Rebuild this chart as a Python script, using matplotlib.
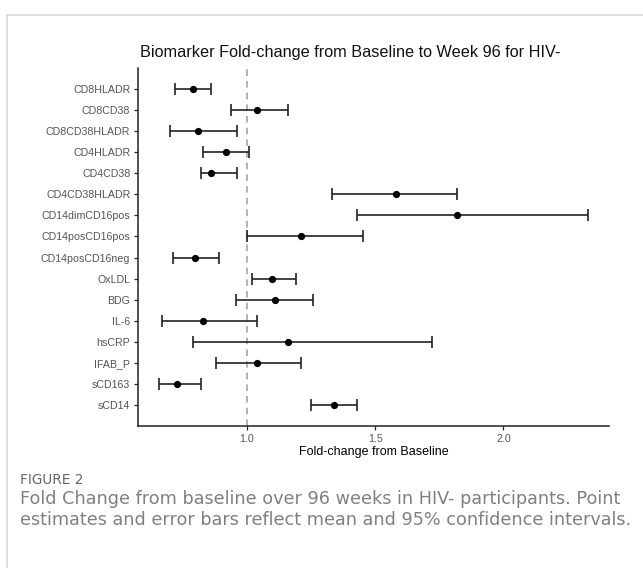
import matplotlib
matplotlib.use('Agg')
import matplotlib.pyplot as plt
from matplotlib.lines import Line2D

# biomarker estimates (mean fold-change and 95% CI), top to bottom
markers = ['CD8HLADR', 'CD8CD38', 'CD8CD38HLADR', 'CD4HLADR', 'CD4CD38',
           'CD4CD38HLADR', 'CD14dimCD16pos', 'CD14posCD16pos', 'CD14posCD16neg',
           'OxLDL', 'BDG', 'IL-6', 'hsCRP', 'IFAB_P', 'sCD163', 'sCD14']
mean = [0.789, 1.040, 0.809, 0.918, 0.860, 1.580, 1.820, 1.209, 0.798,
        1.099, 1.109, 0.830, 1.160, 1.040, 0.728, 1.339]
lower = [0.719, 0.939, 0.700, 0.830, 0.821, 1.332, 1.430, 1.000, 0.710,
         1.020, 0.958, 0.668, 0.789, 0.879, 0.658, 1.248]
upper = [0.860, 1.160, 0.960, 1.009, 0.960, 1.820, 2.329, 1.451, 0.890,
         1.190, 1.259, 1.040, 1.720, 1.209, 0.819, 1.430]
xticks = [1.0, 1.5, 2.0]

W, H = 643, 568
fig = plt.figure(figsize=(W / 100, H / 100), dpi=100)
plt.rcParams['font.family'] = ['Liberation Sans', 'DejaVu Sans']

ax = fig.add_axes([138 / W, 1 - 426 / H, (609 - 138) / W, (426 - 68) / H])

n = len(markers)
ypos = [n - i for i in range(n)]
xerr = [[m - lo for m, lo in zip(mean, lower)], [hi - m for m, hi in zip(mean, upper)]]

ax.axvline(1.0, color='#a6a6a6', linestyle=(0, (4, 3)), linewidth=1.2, zorder=1)
ax.errorbar(mean, ypos, xerr=xerr, fmt='o', color='black', ecolor='#222222',
            elinewidth=1.2, capsize=4.5, capthick=1.2, markersize=4.2, zorder=3)

ax.set_xlim(1 - 109 / 256.4, 1 + 362 / 256.4)
ax.set_ylim(0, n + 1)
ax.set_yticks(ypos)
ax.set_yticklabels(markers)
ax.set_xticks(xticks)
ax.set_xticklabels(['%.1f' % t for t in xticks])
for s in ['top', 'right']:
    ax.spines[s].set_visible(False)
for s in ['left', 'bottom']:
    ax.spines[s].set_color('#222222')
    ax.spines[s].set_linewidth(1.1)
ax.tick_params(axis='both', colors='#222222', labelcolor='#555555', labelsize=7.7,
               length=3, width=0.9, pad=2.5)
ax.set_xlabel('Fold-change from Baseline', fontsize=9, color='black', labelpad=2)

fig.text(350 / W, 1 - 53 / H, 'Biomarker Fold-change from Baseline to Week 96 for HIV-',
         fontsize=11.7, color='#111111', ha='center', va='center')

# figure frame
fig.add_artist(Line2D([7 / W, 1], [1 - 15 / H, 1 - 15 / H], color='#d9d9d9', linewidth=1.2))
fig.add_artist(Line2D([7 / W, 7 / W], [0, 1 - 15 / H], color='#d9d9d9', linewidth=1.2))

# caption
cap_font = ['DejaVu Sans']
fig.text(20 / W, 1 - 480 / H, 'FIGURE 2', fontsize=9.8, color='#666666',
         family=cap_font, va='center')
fig.text(20 / W, 1 - 499 / H,
         'Fold Change from baseline over 96 weeks in HIV- participants. Point',
         fontsize=12.7, color='#808080', family=cap_font, va='center')
fig.text(20 / W, 1 - 520 / H,
         'estimates and error bars reflect mean and 95% confidence intervals.',
         fontsize=12.7, color='#808080', family=cap_font, va='center')

fig.savefig('out.png', dpi=100)
